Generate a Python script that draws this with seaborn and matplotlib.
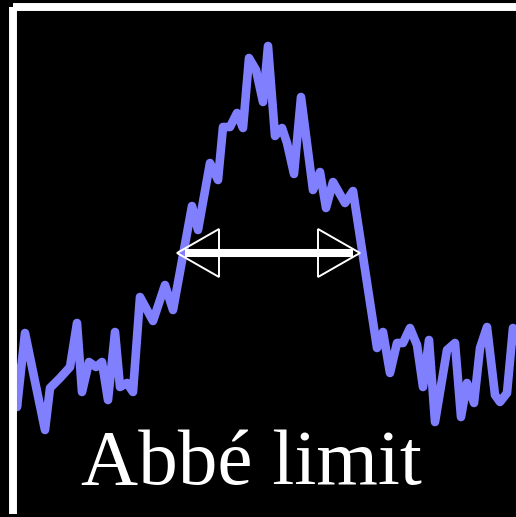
import numpy as np
import pandas as pd
import matplotlib
matplotlib.use("Agg")
import matplotlib.pyplot as plt
from matplotlib.patches import Polygon
import seaborn as sns

# intensity profile across the spot (position, intensity)
position = [0.5, 4.5, 12.5, 32.5, 37.5, 47.5, 57.5, 64.5, 69.5, 76.5, 83.5, 89.5,
            95.5, 102.5, 107.5, 114.5, 120.5, 127.5, 140.5, 152.5, 160.5, 179.5,
            185.5, 197.5, 205.5, 210.5, 217.5, 224.5, 230.5, 236.5, 243.5, 250.5,
            255.5, 262.5, 269.5, 274.5, 281.5, 288.5, 300.5, 307.5, 313.5, 320.5,
            332.5, 340.5, 364.5, 370.5, 377.5, 384.5, 390.5, 397.5, 404.5, 410.5,
            416.5, 422.5, 434.5, 442.5, 448.5, 454.5, 461.5, 467.5, 474.5, 482.5,
            487.5, 494.5, 500.5, 507.5]
intensity = [149, 107, 181, 84, 126, 136, 147, 191, 122, 152, 147, 152,
             114, 182, 127, 131, 122, 217, 193, 229, 204, 308,
             284, 351, 334, 387, 387, 401, 386, 456, 444, 412,
             468, 378, 386, 371, 340, 417, 324, 342, 306, 332,
             311, 323, 166, 182, 141, 171, 171, 186, 169, 127,
             174, 92, 164, 171, 97, 131, 111, 166, 187, 119,
             112, 121, 186, 164]

# full width at half maximum marker
fwhm_left = 164.5
fwhm_right = 347.5
fwhm_level = 261

label = "Abbé limit"

df = pd.DataFrame({"position": position, "intensity": intensity})

W, H = 516, 517
fig = plt.figure(figsize=(W / 100, H / 100), dpi=100, facecolor="black")
ax = fig.add_axes([12.5 / W, 3 / H, 503.5 / W, 507.5 / H])
ax.set_facecolor("black")

sns.lineplot(data=df, x="position", y="intensity", ax=ax, sort=False,
             estimator=None, color="#8080ff", linewidth=6.2,
             solid_joinstyle="round", solid_capstyle="round")

ax.set_xlim(0, 503.5)
ax.set_ylim(0, 507.5)
ax.set_xticks([])
ax.set_yticks([])
ax.set_xlabel("")
ax.set_ylabel("")

for side in ["right", "bottom"]:
    ax.spines[side].set_visible(False)
for side in ["left", "top"]:
    ax.spines[side].set_color("white")
    ax.spines[side].set_linewidth(5.7)
    ax.spines[side].set_capstyle("butt")

# double arrow: thick shaft, hollow heads
head_len, head_half = 42, 24
ax.plot([fwhm_left + 8, fwhm_right - 7], [fwhm_level, fwhm_level],
        color="white", linewidth=5.8, solid_capstyle="butt", zorder=4)
for tip, d in [(fwhm_left, 1), (fwhm_right, -1)]:
    tri = Polygon([(tip, fwhm_level),
                   (tip + d * head_len, fwhm_level + head_half),
                   (tip + d * head_len, fwhm_level - head_half)],
                  closed=True, facecolor="none", edgecolor="white",
                  linewidth=1.4, zorder=5)
    ax.add_patch(tri)

fig.text(251 / W, 1 - 484 / H, label, ha="center", va="baseline",
         fontsize=57, family="Liberation Serif", color="white")

fig.savefig("out.png", dpi=100, facecolor="black")
